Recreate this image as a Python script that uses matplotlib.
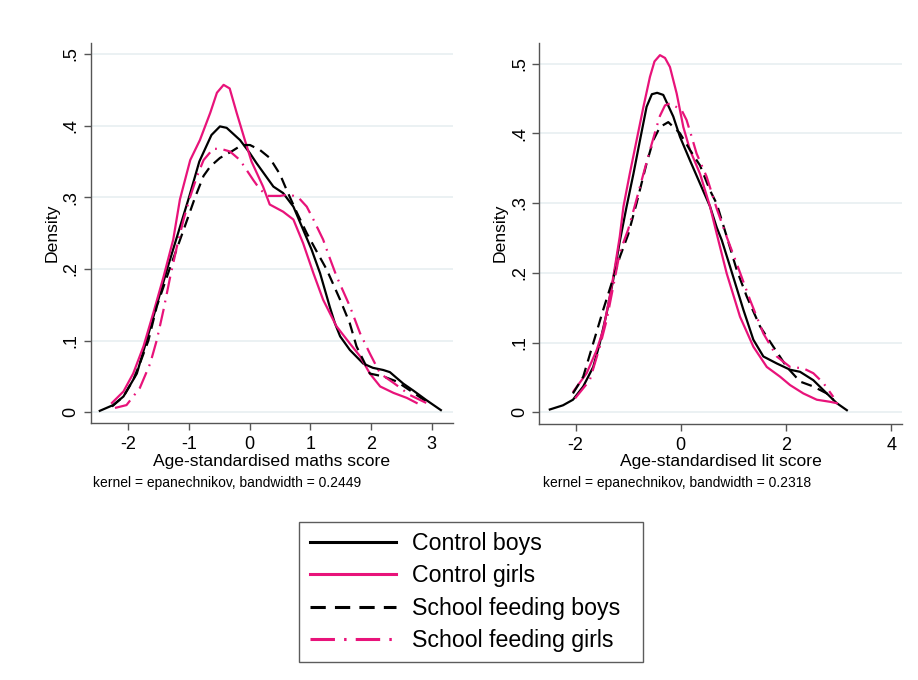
import matplotlib
matplotlib.use("Agg")
import matplotlib.pyplot as plt

plt.rcParams['font.family'] = ['Liberation Sans', 'DejaVu Sans']

# ---------------- data ----------------
series_names = ["Control boys", "Control girls", "School feeding boys", "School feeding girls"]

# Left panel: age-standardised maths score
maths_cb_x = [-2.47, -2.25, -2.08, -1.86, -1.70, -1.53, -1.36, -1.18, -1.00, -0.83, -0.63, -0.49, -0.38, -0.16,
              0.00, 0.11, 0.39, 0.55, 0.72, 0.88, 1.02, 1.16, 1.32, 1.405, 1.49, 1.65, 1.87, 2.03, 2.20, 2.31,
              2.53, 2.70, 2.91, 3.15]
maths_cb_y = [0.002, 0.010, 0.022, 0.054, 0.100, 0.150, 0.200, 0.250, 0.300, 0.350, 0.387, 0.399, 0.397, 0.380,
              0.362, 0.348, 0.315, 0.306, 0.287, 0.255, 0.227, 0.194, 0.147, 0.124, 0.106, 0.087, 0.068, 0.062,
              0.059, 0.056, 0.040, 0.030, 0.017, 0.003]

maths_cg_x = [-2.27, -2.08, -1.92, -1.75, -1.59, -1.42, -1.26, -1.15, -0.98, -0.82, -0.65, -0.54, -0.43, -0.33,
              -0.215, -0.08, 0.03, 0.22, 0.33, 0.55, 0.72, 0.88, 1.05, 1.21, 1.43, 1.65, 1.82, 1.98, 2.15, 2.37,
              2.59, 2.75]
maths_cg_y = [0.013, 0.029, 0.054, 0.092, 0.138, 0.189, 0.241, 0.297, 0.352, 0.380, 0.418, 0.446, 0.457, 0.452,
              0.418, 0.380, 0.350, 0.315, 0.290, 0.280, 0.269, 0.236, 0.194, 0.157, 0.120, 0.096, 0.078, 0.054,
              0.036, 0.027, 0.020, 0.013]

maths_sb_x = [-2.27, -2.08, -1.92, -1.81, -1.67, -1.53, -1.32, -1.10, -0.90, -0.76, -0.65, -0.49, -0.30, -0.13,
              0.005, 0.17, 0.33, 0.50, 0.61, 0.77, 0.94, 1.10, 1.27, 1.49, 1.65, 1.76, 1.98, 2.20, 2.42, 2.65, 2.91]
maths_sb_y = [0.008, 0.022, 0.045, 0.068, 0.100, 0.148, 0.200, 0.252, 0.300, 0.330, 0.343, 0.355, 0.364, 0.373,
              0.373, 0.366, 0.355, 0.332, 0.310, 0.280, 0.250, 0.225, 0.199, 0.157, 0.124, 0.092, 0.054, 0.050,
              0.043, 0.030, 0.015]

maths_sg_x = [-2.22, -2.03, -1.81, -1.64, -1.53, -1.42, -1.31, -1.20, -1.09, -0.98, -0.87, -0.76, -0.60, -0.45,
              -0.325, -0.16, -0.05, 0.06, 0.17, 0.30, 0.50, 0.65, 0.80, 0.94, 1.05, 1.21, 1.32, 1.43, 1.65, 1.82,
              1.98, 2.15, 2.37, 2.64, 2.91]
maths_sg_y = [0.006, 0.010, 0.034, 0.068, 0.101, 0.143, 0.189, 0.231, 0.269, 0.301, 0.329, 0.352, 0.368, 0.367,
              0.364, 0.352, 0.338, 0.324, 0.311, 0.302, 0.302, 0.304, 0.300, 0.287, 0.269, 0.241, 0.215, 0.190,
              0.148, 0.110, 0.082, 0.054, 0.041, 0.024, 0.013]

# Right panel: age-standardised lit score
lit_cb_x = [-2.49, -2.24, -2.05, -1.855, -1.665, -1.54, -1.41, -1.285, -1.16, -1.03, -0.90, -0.776, -0.65, -0.55,
            -0.45, -0.333, -0.143, -0.016, 0.175, 0.365, 0.556, 0.683, 0.778, 0.936, 1.19, 1.38, 1.57, 1.825,
            2.078, 2.268, 2.52, 2.776, 2.967, 3.157]
lit_cb_y = [0.004, 0.010, 0.018, 0.037, 0.065, 0.099, 0.142, 0.190, 0.245, 0.295, 0.342, 0.390, 0.438, 0.456,
            0.458, 0.455, 0.424, 0.395, 0.361, 0.328, 0.295, 0.265, 0.247, 0.209, 0.147, 0.104, 0.080, 0.070,
            0.061, 0.058, 0.046, 0.027, 0.013, 0.003]

lit_cg_x = [-2.04, -1.79, -1.60, -1.475, -1.35, -1.27, -1.16, -1.09, -0.97, -0.84, -0.71, -0.586, -0.50, -0.396,
            -0.30, -0.206, -0.078, 0.048, 0.175, 0.365, 0.556, 0.683, 0.873, 1.126, 1.38, 1.635, 1.888, 2.078,
            2.33, 2.586, 2.84, 2.967]
lit_cg_y = [0.030, 0.056, 0.089, 0.118, 0.166, 0.200, 0.252, 0.295, 0.342, 0.390, 0.438, 0.481, 0.503, 0.512,
            0.508, 0.495, 0.457, 0.409, 0.376, 0.342, 0.295, 0.256, 0.199, 0.137, 0.094, 0.065, 0.051, 0.039,
            0.027, 0.018, 0.015, 0.013]

lit_sb_x = [-2.05, -1.855, -1.665, -1.475, -1.315, -1.157, -1.0, -0.84, -0.65, -0.523, -0.396, -0.238, -0.016,
            0.175, 0.365, 0.556, 0.683, 0.873, 1.064, 1.254, 1.507, 1.76, 2.015, 2.268, 2.52, 2.776, 2.90]
lit_sb_y = [0.027, 0.051, 0.099, 0.147, 0.185, 0.223, 0.255, 0.300, 0.357, 0.390, 0.409, 0.416, 0.400, 0.376,
            0.354, 0.318, 0.299, 0.252, 0.204, 0.166, 0.123, 0.094, 0.065, 0.044, 0.037, 0.027, 0.018]

lit_sg_x = [-2.01, -1.73, -1.54, -1.41, -1.285, -1.157, -1.0, -0.86, -0.71, -0.586, -0.46, -0.396, -0.30, -0.20,
            0.017, 0.11, 0.207, 0.30, 0.49, 0.683, 0.87, 1.064, 1.317, 1.57, 1.825, 2.078, 2.33, 2.52, 2.71, 2.90]
lit_sg_y = [0.020, 0.046, 0.094, 0.132, 0.180, 0.230, 0.262, 0.300, 0.342, 0.376, 0.409, 0.425, 0.440, 0.443,
            0.433, 0.419, 0.395, 0.371, 0.338, 0.292, 0.252, 0.213, 0.161, 0.113, 0.080, 0.065, 0.063, 0.056,
            0.042, 0.022]

y_ticks = [0, 0.1, 0.2, 0.3, 0.4, 0.5]
y_ticklabels = ["0", ".1", ".2", ".3", ".4", ".5"]
maths_xticks = [-2, -1, 0, 1, 2, 3]
maths_xticklabels = ["-2", "-1", "0", "1", "2", "3"]
lit_xticks = [-2, 0, 2, 4]
lit_xticklabels = ["-2", "0", "2", "4"]

xlabels = ["Age-standardised maths score", "Age-standardised lit score"]
notes = ["kernel = epanechnikov, bandwidth = 0.2449", "kernel = epanechnikov, bandwidth = 0.2318"]

# ---------------- style ----------------
BLACK = "#000000"
PINK = "#E8137A"
GRID = "#E6EEF0"
AXC = "#555555"
LW = 1.6
styles = [
    dict(color=BLACK, linestyle="-"),
    dict(color=PINK, linestyle="-"),
    dict(color=BLACK, linestyle=(0, (5, 3))),
    dict(color=PINK, linestyle=(0, (8, 3, 0.8, 3))),
]

W, H = 918, 680
fig = plt.figure(figsize=(W / 100, H / 100), dpi=100)
fig.patch.set_facecolor("white")


def px_rect(x0, x1, ytop, ybot):
    return [x0 / W, 1 - ybot / H, (x1 - x0) / W, (ybot - ytop) / H]


axL = fig.add_axes(px_rect(90.7, 453, 43.3, 423))
axR = fig.add_axes(px_rect(539.3, 901.7, 43.3, 424))

panels = [
    (axL, [(maths_cb_x, maths_cb_y), (maths_cg_x, maths_cg_y), (maths_sb_x, maths_sb_y), (maths_sg_x, maths_sg_y)],
     maths_xticks, maths_xticklabels, (-2.62, 3.35), (-0.015, 0.515)),
    (axR, [(lit_cb_x, lit_cb_y), (lit_cg_x, lit_cg_y), (lit_sb_x, lit_sb_y), (lit_sg_x, lit_sg_y)],
     lit_xticks, lit_xticklabels, (-2.69, 4.2), (-0.0168, 0.529)),
]

handles = []
for i, (ax, data, xt, xtl, xl, yl) in enumerate(panels):
    ax.set_facecolor("white")
    for yv in y_ticks:
        ax.axhline(yv, color=GRID, lw=1.1, zorder=0)
    for k, ((xs, ys), st) in enumerate(zip(data, styles)):
        ln, = ax.plot(xs, ys, lw=LW, label=series_names[k], zorder=3, **st)
        if i == 0:
            handles.append(ln)
    ax.set_xlim(*xl)
    ax.set_ylim(*yl)
    ax.set_xticks(xt)
    ax.set_xticklabels(xtl, fontsize=13)
    ax.set_yticks(y_ticks)
    ax.set_yticklabels(y_ticklabels, fontsize=13, rotation=90, va="center")
    for s in ["top", "right"]:
        ax.spines[s].set_visible(False)
    for s in ["left", "bottom"]:
        ax.spines[s].set_color(AXC)
        ax.spines[s].set_linewidth(1.0)
    ax.tick_params(axis="both", direction="out", length=5, width=1.0, color=AXC)
    ax.tick_params(axis="x", pad=4.5)
    ax.tick_params(axis="y", pad=3)

# axis titles and notes
fig.text(51.7 / W, 1 - 233 / H, "Density", rotation=90, ha="center", va="center", fontsize=12.6)
fig.text(500 / W, 1 - 233 / H, "Density", rotation=90, ha="center", va="center", fontsize=12.6)
fig.text(((90.7 + 453) / 2) / W, 1 - 461.7 / H, xlabels[0], ha="center", va="center", fontsize=12.6)
fig.text(((539.3 + 901.7) / 2) / W, 1 - 461.7 / H, xlabels[1], ha="center", va="center", fontsize=12.6)
fig.text(93.3 / W, 1 - 483.3 / H, notes[0], ha="left", va="center", fontsize=10)
fig.text(542.7 / W, 1 - 483.3 / H, notes[1], ha="left", va="center", fontsize=10)

# legend box in reference: x 299..643 px, y 522..662 px
lx0, lx1, ly0, ly1 = 299.3, 642.7, 521.7, 662.3
leg = fig.legend(handles=handles, labels=series_names, loc="center",
                 bbox_to_anchor=(lx0 / W, 1 - ly1 / H, (lx1 - lx0) / W, (ly1 - ly0) / H),
                 mode="expand", fontsize=16.7, frameon=True,
                 fancybox=False, shadow=False, handlelength=3.75, handletextpad=0.65,
                 labelspacing=0.4, borderpad=0.44, borderaxespad=0)
leg.get_frame().set_edgecolor("#333333")
leg.get_frame().set_linewidth(1.0)
for lh in leg.get_lines():
    lh.set_linewidth(2.2)

fig.savefig("out.png", dpi=100, facecolor="white")
